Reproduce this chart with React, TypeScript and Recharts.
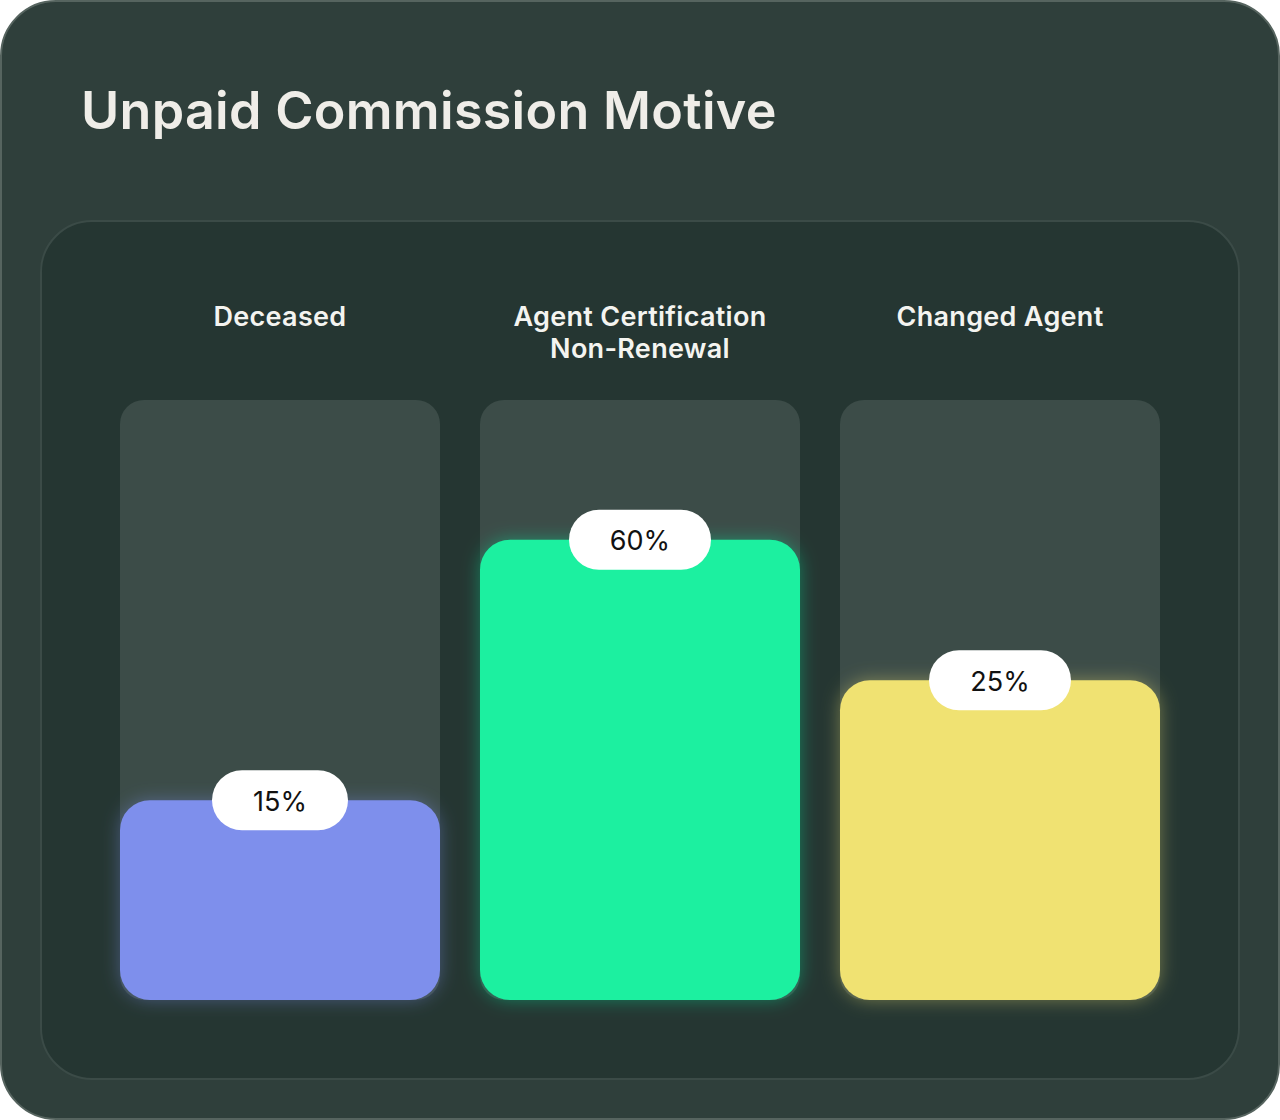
import React from 'react';
import { BarChart, Bar, XAxis, YAxis, LabelList, Rectangle } from 'recharts';

const categories = ['Deceased', 'Agent Certification\nNon-Renewal', 'Changed Agent'];
const shareLabels = ['15%', '60%', '25%'];
const fillLevels = [33.3, 76.7, 53.3];
const barColors = ['#7e8fec', '#1af0a0', '#f0e272'];

const data = categories.map((c, i) => ({ name: c, level: fillLevels[i], label: shareLabels[i] }));

const FONT = 'Inter, "Noto Sans", sans-serif';

const CategoryTick = (props: any) => {
  const { x, y, payload } = props;
  const lines = String(payload.value).split('\n');
  return (
    <g>
      {lines.map((l: string, i: number) => (
        <text
          key={i}
          x={x}
          y={y - 84 + i * 32}
          textAnchor="middle"
          dominantBaseline="central"
          fill="#f4f4f0"
          fontFamily={FONT}
          fontWeight={600}
          fontSize={27}
          letterSpacing={0.3}
        >
          {l}
        </text>
      ))}
    </g>
  );
};

const PillLabel = (props: any) => {
  const { x, y, width, value } = props;
  const cx = x + width / 2;
  const w = String(value).startsWith('1') ? 136 : 142;
  return (
    <g>
      <rect x={cx - w / 2} y={y - 30} width={w} height={60} rx={30} ry={30} fill="#ffffff" />
      <text
        x={cx}
        y={y + 1}
        textAnchor="middle"
        dominantBaseline="central"
        fill="#111111"
        fontFamily={FONT}
        fontSize={27}
      >
        {value}
      </text>
    </g>
  );
};

const GlowBar = (props: any) => {
  const { x, y, width, height, index } = props;
  return (
    <Rectangle
      x={x}
      y={y}
      width={width}
      height={height}
      radius={30}
      fill={barColors[index]}
      filter={`url(#glow${index})`}
    />
  );
};

export default function App() {
  return (
    <div style={{ position: 'relative', width: 1280, height: 1120, background: '#ffffff' }}>
      <style>{`body{margin:0}`}</style>
      <div
        style={{
          position: 'absolute',
          left: 0,
          top: 0,
          width: 1280,
          height: 1120,
          boxSizing: 'border-box',
          borderRadius: 56,
          background: '#2f3f3b',
          border: '2px solid #56645f',
        }}
      />
      <div
        style={{
          position: 'absolute',
          left: 40,
          top: 220,
          width: 1200,
          height: 860,
          boxSizing: 'border-box',
          borderRadius: 52,
          background: '#253632',
          border: '2px solid #3b4b47',
        }}
      />
      <div
        style={{
          position: 'absolute',
          left: 81,
          top: 76,
          fontFamily: FONT,
          fontWeight: 600,
          fontSize: 52,
          lineHeight: '70px',
          letterSpacing: 0.3,
          color: '#efede8',
          whiteSpace: 'nowrap',
        }}
      >
        Unpaid Commission Motive
      </div>
      <div style={{ position: 'absolute', left: 0, top: 0 }}>
        <BarChart
          width={1280}
          height={1120}
          data={data}
          margin={{ top: 370, right: 100, bottom: 120, left: 100 }}
          barCategoryGap={20}
        >
          <defs>
            {barColors.map((c, i) => (
              <filter key={i} id={`glow${i}`} x="-30%" y="-30%" width="160%" height="160%">
                <feDropShadow dx={0} dy={0} stdDeviation={9} floodColor={c} floodOpacity={0.4} />
              </filter>
            ))}
          </defs>
          <XAxis
            dataKey="name"
            orientation="top"
            axisLine={false}
            tickLine={false}
            tickSize={0}
            tickMargin={0}
            height={30}
            interval={0}
            tick={<CategoryTick />}
          />
          <YAxis hide domain={[0, 100]} />
          <Bar
            dataKey="level"
            isAnimationActive={false}
            background={{ fill: '#3c4c48', radius: 24 } as any}
            shape={<GlowBar />}
          >
            <LabelList dataKey="label" content={<PillLabel />} />
          </Bar>
        </BarChart>
      </div>
    </div>
  );
}
